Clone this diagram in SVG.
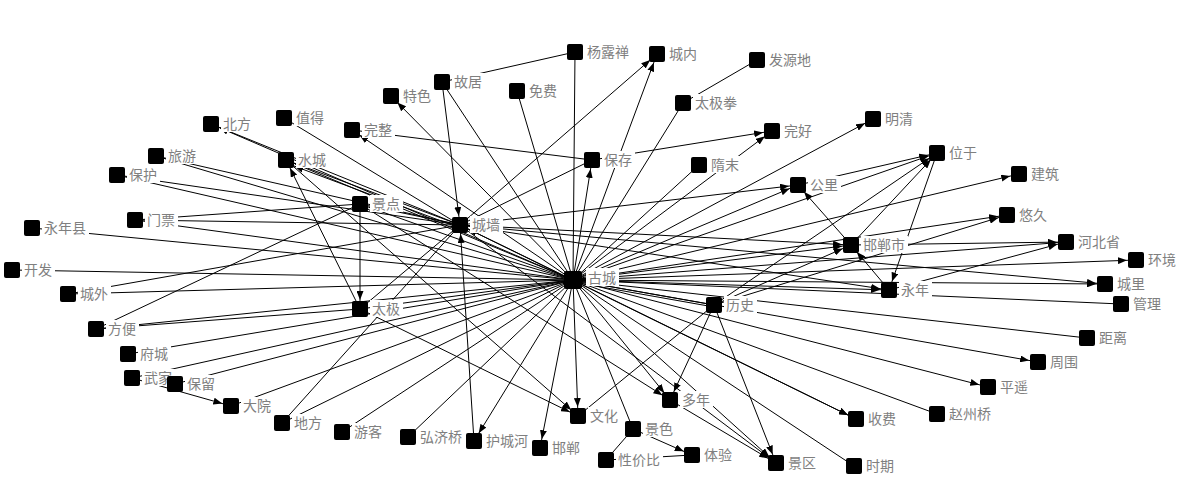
<svg xmlns="http://www.w3.org/2000/svg" width="1193" height="490" viewBox="0 0 1193 490">
<style>
line{stroke:#000;stroke-width:1}
.a{marker-end:url(#arr)}
.sq{fill:#000}
.bg{fill:#fff}
text{font-family:"Noto Sans CJK SC","Liberation Sans",sans-serif;font-size:14px;fill:#7f7f7f}
</style>
<defs>
<marker id="arr" markerUnits="userSpaceOnUse" viewBox="0 0 9 7" markerWidth="9" markerHeight="7" refX="18" refY="3.5" orient="auto">
<path d="M0,0 L9,3.5 L0,7 z" fill="#000"/>
</marker>
</defs>
<rect width="1193" height="490" fill="#fff"/>
<g id="connectors">
<line x1="573" y1="280" x2="575" y2="52"/>
<line class="a" x1="573" y1="280" x2="657" y2="54"/>
<line x1="573" y1="280" x2="683" y2="103"/>
<line x1="573" y1="280" x2="442" y2="82"/>
<line x1="573" y1="280" x2="517" y2="91"/>
<line class="a" x1="573" y1="280" x2="391" y2="96"/>
<line class="a" x1="573" y1="280" x2="211" y2="124"/>
<line class="a" x1="573" y1="280" x2="352" y2="130"/>
<line class="a" x1="573" y1="280" x2="772" y2="131"/>
<line class="a" x1="573" y1="280" x2="873" y2="119"/>
<line class="a" x1="573" y1="280" x2="286" y2="160"/>
<line x1="573" y1="280" x2="156" y2="156"/>
<line x1="573" y1="280" x2="117" y2="175"/>
<line class="a" x1="573" y1="280" x2="592" y2="160"/>
<line x1="573" y1="280" x2="699" y2="165"/>
<line class="a" x1="573" y1="280" x2="937" y2="153"/>
<line class="a" x1="573" y1="280" x2="798" y2="185"/>
<line class="a" x1="573" y1="280" x2="1019" y2="174"/>
<line class="a" x1="573" y1="280" x2="360" y2="204"/>
<line class="a" x1="573" y1="280" x2="460" y2="225"/>
<line x1="573" y1="280" x2="135" y2="220"/>
<line x1="573" y1="280" x2="32" y2="228"/>
<line class="a" x1="573" y1="280" x2="1007" y2="215"/>
<line class="a" x1="573" y1="280" x2="851" y2="245"/>
<line class="a" x1="573" y1="280" x2="1066" y2="242"/>
<line class="a" x1="573" y1="280" x2="1136" y2="260"/>
<line x1="573" y1="280" x2="12" y2="270"/>
<line class="a" x1="573" y1="280" x2="1105" y2="284"/>
<line class="a" x1="573" y1="280" x2="889" y2="290"/>
<line x1="573" y1="280" x2="68" y2="294"/>
<line x1="573" y1="280" x2="1121" y2="304"/>
<line x1="573" y1="280" x2="714" y2="305"/>
<line x1="573" y1="282" x2="714" y2="307"/>
<line x1="573" y1="280" x2="360" y2="309"/>
<line x1="573" y1="280" x2="96" y2="329"/>
<line x1="573" y1="280" x2="1087" y2="338"/>
<line x1="573" y1="280" x2="128" y2="354"/>
<line class="a" x1="573" y1="280" x2="1038" y2="362"/>
<line x1="573" y1="280" x2="132" y2="378"/>
<line x1="573" y1="280" x2="175" y2="384"/>
<line class="a" x1="573" y1="280" x2="988" y2="387"/>
<line x1="573" y1="280" x2="231" y2="406"/>
<line class="a" x1="573" y1="280" x2="670" y2="400"/>
<line class="a" x1="573" y1="280" x2="856" y2="419"/>
<line x1="573" y1="280" x2="937" y2="414"/>
<line class="a" x1="573" y1="280" x2="578" y2="416"/>
<line x1="573" y1="280" x2="282" y2="423"/>
<line x1="573" y1="280" x2="342" y2="432"/>
<line x1="573" y1="280" x2="633" y2="429"/>
<line x1="573" y1="280" x2="408" y2="437"/>
<line class="a" x1="573" y1="280" x2="474" y2="441"/>
<line class="a" x1="573" y1="280" x2="540" y2="448"/>
<line class="a" x1="573" y1="280" x2="776" y2="463"/>
<line x1="573" y1="280" x2="854" y2="466"/>
<line class="a" x1="460" y1="225" x2="657" y2="54"/>
<line class="a" x1="460" y1="225" x2="211" y2="124"/>
<line class="a" x1="460" y1="225" x2="286" y2="160"/>
<line class="a" x1="460" y1="228" x2="286" y2="163"/>
<line class="a" x1="460" y1="225" x2="360" y2="204"/>
<line class="a" x1="460" y1="225" x2="798" y2="185"/>
<line x1="460" y1="225" x2="592" y2="160"/>
<line x1="460" y1="225" x2="284" y2="118"/>
<line x1="460" y1="225" x2="135" y2="220"/>
<line x1="460" y1="225" x2="68" y2="294"/>
<line x1="460" y1="225" x2="282" y2="423"/>
<line x1="460" y1="225" x2="156" y2="156"/>
<line x1="460" y1="225" x2="117" y2="175"/>
<line x1="460" y1="225" x2="360" y2="309"/>
<line class="a" x1="460" y1="225" x2="856" y2="419"/>
<line class="a" x1="460" y1="225" x2="776" y2="463"/>
<line class="a" x1="460" y1="225" x2="851" y2="245"/>
<line class="a" x1="460" y1="225" x2="889" y2="290"/>
<line class="a" x1="460" y1="225" x2="1105" y2="284"/>
<line class="a" x1="442" y1="82" x2="460" y2="225"/>
<line class="a" x1="474" y1="441" x2="460" y2="225"/>
<line x1="575" y1="52" x2="442" y2="82"/>
<line x1="683" y1="103" x2="757" y2="60"/>
<line class="a" x1="592" y1="160" x2="772" y2="131"/>
<line x1="592" y1="160" x2="352" y2="130"/>
<line class="a" x1="851" y1="245" x2="798" y2="185"/>
<line class="a" x1="798" y1="185" x2="937" y2="153"/>
<line class="a" x1="851" y1="245" x2="937" y2="153"/>
<line class="a" x1="714" y1="305" x2="937" y2="153"/>
<line class="a" x1="937" y1="153" x2="889" y2="290"/>
<line class="a" x1="889" y1="290" x2="851" y2="245"/>
<line class="a" x1="714" y1="305" x2="1007" y2="215"/>
<line class="a" x1="851" y1="245" x2="1066" y2="242"/>
<line class="a" x1="889" y1="290" x2="1066" y2="242"/>
<line class="a" x1="714" y1="305" x2="851" y2="245"/>
<line class="a" x1="714" y1="305" x2="670" y2="400"/>
<line class="a" x1="714" y1="305" x2="776" y2="463"/>
<line class="a" x1="670" y1="400" x2="776" y2="463"/>
<line x1="714" y1="305" x2="578" y2="416"/>
<line class="a" x1="633" y1="429" x2="692" y2="455"/>
<line x1="633" y1="429" x2="606" y2="460"/>
<line x1="606" y1="460" x2="692" y2="455"/>
<line class="a" x1="132" y1="378" x2="231" y2="406"/>
<line class="a" x1="360" y1="309" x2="286" y2="160"/>
<line class="a" x1="360" y1="204" x2="360" y2="309"/>
<line x1="96" y1="329" x2="360" y2="204"/>
<line x1="96" y1="329" x2="360" y2="309"/>
<line x1="135" y1="220" x2="360" y2="204"/>
<line class="a" x1="286" y1="160" x2="578" y2="416"/>
<line class="a" x1="360" y1="309" x2="578" y2="416"/>
<line class="a" x1="360" y1="204" x2="670" y2="400"/>
</g>
<g id="n-yangluchan"><rect class="sq" x="567" y="44" width="16" height="16" rx="2"/><rect class="bg" x="585" y="43" width="47" height="17"/><text x="587" y="57">杨露禅</text></g>
<g id="n-chengnei"><rect class="sq" x="649" y="46" width="16" height="16" rx="2"/><rect class="bg" x="667" y="45" width="33" height="17"/><text x="669" y="59">城内</text></g>
<g id="n-fayuandi"><rect class="sq" x="749" y="52" width="16" height="16" rx="2"/><rect class="bg" x="767" y="51" width="47" height="17"/><text x="769" y="65">发源地</text></g>
<g id="n-guju"><rect class="sq" x="434" y="74" width="16" height="16" rx="2"/><rect class="bg" x="452" y="73" width="33" height="17"/><text x="454" y="87">故居</text></g>
<g id="n-mianfei"><rect class="sq" x="509" y="83" width="16" height="16" rx="2"/><rect class="bg" x="527" y="82" width="33" height="17"/><text x="529" y="96">免费</text></g>
<g id="n-tese"><rect class="sq" x="383" y="88" width="16" height="16" rx="2"/><rect class="bg" x="401" y="87" width="33" height="17"/><text x="403" y="101">特色</text></g>
<g id="n-taijiquan"><rect class="sq" x="675" y="95" width="16" height="16" rx="2"/><rect class="bg" x="693" y="94" width="47" height="17"/><text x="695" y="108">太极拳</text></g>
<g id="n-beifang"><rect class="sq" x="203" y="116" width="16" height="16" rx="2"/><rect class="bg" x="221" y="115" width="33" height="17"/><text x="223" y="129">北方</text></g>
<g id="n-zhide"><rect class="sq" x="276" y="110" width="16" height="16" rx="2"/><rect class="bg" x="294" y="109" width="33" height="17"/><text x="296" y="123">值得</text></g>
<g id="n-wanzheng"><rect class="sq" x="344" y="122" width="16" height="16" rx="2"/><rect class="bg" x="362" y="121" width="33" height="17"/><text x="364" y="135">完整</text></g>
<g id="n-wanhao"><rect class="sq" x="764" y="123" width="16" height="16" rx="2"/><rect class="bg" x="782" y="122" width="33" height="17"/><text x="784" y="136">完好</text></g>
<g id="n-mingqing"><rect class="sq" x="865" y="111" width="16" height="16" rx="2"/><rect class="bg" x="883" y="110" width="33" height="17"/><text x="885" y="124">明清</text></g>
<g id="n-shuicheng"><rect class="sq" x="278" y="152" width="16" height="16" rx="2"/><rect class="bg" x="296" y="151" width="33" height="17"/><text x="298" y="165">水城</text></g>
<g id="n-lvyou"><rect class="sq" x="148" y="148" width="16" height="16" rx="2"/><rect class="bg" x="166" y="147" width="33" height="17"/><text x="168" y="161">旅游</text></g>
<g id="n-baohu"><rect class="sq" x="109" y="167" width="16" height="16" rx="2"/><rect class="bg" x="127" y="166" width="33" height="17"/><text x="129" y="180">保护</text></g>
<g id="n-baocun"><rect class="sq" x="584" y="152" width="16" height="16" rx="2"/><rect class="bg" x="602" y="151" width="33" height="17"/><text x="604" y="165">保存</text></g>
<g id="n-suimo"><rect class="sq" x="691" y="157" width="16" height="16" rx="2"/><rect class="bg" x="709" y="156" width="33" height="17"/><text x="711" y="170">隋末</text></g>
<g id="n-weiyu"><rect class="sq" x="929" y="145" width="16" height="16" rx="2"/><rect class="bg" x="947" y="144" width="33" height="17"/><text x="949" y="158">位于</text></g>
<g id="n-gongli"><rect class="sq" x="790" y="177" width="16" height="16" rx="2"/><rect class="bg" x="808" y="176" width="33" height="17"/><text x="810" y="190">公里</text></g>
<g id="n-jianzhu"><rect class="sq" x="1011" y="166" width="16" height="16" rx="2"/><rect class="bg" x="1029" y="165" width="33" height="17"/><text x="1031" y="179">建筑</text></g>
<g id="n-jingdian"><rect class="sq" x="352" y="196" width="16" height="16" rx="2"/><rect class="bg" x="370" y="195" width="33" height="17"/><text x="372" y="209">景点</text></g>
<g id="n-chengqiang"><rect class="sq" x="452" y="217" width="16" height="16" rx="2"/><rect class="bg" x="470" y="216" width="33" height="17"/><text x="472" y="230">城墙</text></g>
<g id="n-menpiao"><rect class="sq" x="127" y="212" width="16" height="16" rx="2"/><rect class="bg" x="145" y="211" width="33" height="17"/><text x="147" y="225">门票</text></g>
<g id="n-yongnianxian"><rect class="sq" x="24" y="220" width="16" height="16" rx="2"/><rect class="bg" x="42" y="219" width="47" height="17"/><text x="44" y="233">永年县</text></g>
<g id="n-youjiu"><rect class="sq" x="999" y="207" width="16" height="16" rx="2"/><rect class="bg" x="1017" y="206" width="33" height="17"/><text x="1019" y="220">悠久</text></g>
<g id="n-handanshi"><rect class="sq" x="843" y="237" width="16" height="16" rx="2"/><rect class="bg" x="861" y="236" width="47" height="17"/><text x="863" y="250">邯郸市</text></g>
<g id="n-hebeisheng"><rect class="sq" x="1058" y="234" width="16" height="16" rx="2"/><rect class="bg" x="1076" y="233" width="47" height="17"/><text x="1078" y="247">河北省</text></g>
<g id="n-huanjing"><rect class="sq" x="1128" y="252" width="16" height="16" rx="2"/><rect class="bg" x="1146" y="251" width="33" height="17"/><text x="1148" y="265">环境</text></g>
<g id="n-kaifa"><rect class="sq" x="4" y="262" width="16" height="16" rx="2"/><rect class="bg" x="22" y="261" width="33" height="17"/><text x="24" y="275">开发</text></g>
<g id="n-gucheng"><rect class="sq" x="564" y="271" width="18" height="18" rx="2"/><rect class="bg" x="586" y="268" width="33" height="18"/><text x="588" y="283">古城</text></g>
<g id="n-chengli"><rect class="sq" x="1097" y="276" width="16" height="16" rx="2"/><rect class="bg" x="1115" y="275" width="33" height="17"/><text x="1117" y="289">城里</text></g>
<g id="n-yongnian"><rect class="sq" x="881" y="282" width="16" height="16" rx="2"/><rect class="bg" x="899" y="281" width="33" height="17"/><text x="901" y="295">永年</text></g>
<g id="n-chengwai"><rect class="sq" x="60" y="286" width="16" height="16" rx="2"/><rect class="bg" x="78" y="285" width="33" height="17"/><text x="80" y="299">城外</text></g>
<g id="n-guanli"><rect class="sq" x="1113" y="296" width="16" height="16" rx="2"/><rect class="bg" x="1131" y="295" width="33" height="17"/><text x="1133" y="309">管理</text></g>
<g id="n-lishi"><rect class="sq" x="706" y="297" width="16" height="16" rx="2"/><rect class="bg" x="724" y="296" width="33" height="17"/><text x="726" y="310">历史</text></g>
<g id="n-taiji"><rect class="sq" x="352" y="301" width="16" height="16" rx="2"/><rect class="bg" x="370" y="300" width="33" height="17"/><text x="372" y="314">太极</text></g>
<g id="n-fangbian"><rect class="sq" x="88" y="321" width="16" height="16" rx="2"/><rect class="bg" x="106" y="320" width="33" height="17"/><text x="108" y="334">方便</text></g>
<g id="n-juli"><rect class="sq" x="1079" y="330" width="16" height="16" rx="2"/><rect class="bg" x="1097" y="329" width="33" height="17"/><text x="1099" y="343">距离</text></g>
<g id="n-fucheng"><rect class="sq" x="120" y="346" width="16" height="16" rx="2"/><rect class="bg" x="138" y="345" width="33" height="17"/><text x="140" y="359">府城</text></g>
<g id="n-zhouwei"><rect class="sq" x="1030" y="354" width="16" height="16" rx="2"/><rect class="bg" x="1048" y="353" width="33" height="17"/><text x="1050" y="367">周围</text></g>
<g id="n-wujia"><rect class="sq" x="124" y="370" width="16" height="16" rx="2"/><rect class="bg" x="142" y="369" width="33" height="17"/><text x="144" y="383">武家</text></g>
<g id="n-baoliu"><rect class="sq" x="167" y="376" width="16" height="16" rx="2"/><rect class="bg" x="185" y="375" width="33" height="17"/><text x="187" y="389">保留</text></g>
<g id="n-pingyao"><rect class="sq" x="980" y="379" width="16" height="16" rx="2"/><rect class="bg" x="998" y="378" width="33" height="17"/><text x="1000" y="392">平遥</text></g>
<g id="n-dayuan"><rect class="sq" x="223" y="398" width="16" height="16" rx="2"/><rect class="bg" x="241" y="397" width="33" height="17"/><text x="243" y="411">大院</text></g>
<g id="n-duonian"><rect class="sq" x="662" y="392" width="16" height="16" rx="2"/><rect class="bg" x="680" y="391" width="33" height="17"/><text x="682" y="405">多年</text></g>
<g id="n-shoufei"><rect class="sq" x="848" y="411" width="16" height="16" rx="2"/><rect class="bg" x="866" y="410" width="33" height="17"/><text x="868" y="424">收费</text></g>
<g id="n-zhaozhouqiao"><rect class="sq" x="929" y="406" width="16" height="16" rx="2"/><rect class="bg" x="947" y="405" width="47" height="17"/><text x="949" y="419">赵州桥</text></g>
<g id="n-wenhua"><rect class="sq" x="570" y="408" width="16" height="16" rx="2"/><rect class="bg" x="588" y="407" width="33" height="17"/><text x="590" y="421">文化</text></g>
<g id="n-difang"><rect class="sq" x="274" y="415" width="16" height="16" rx="2"/><rect class="bg" x="292" y="414" width="33" height="17"/><text x="294" y="428">地方</text></g>
<g id="n-youke"><rect class="sq" x="334" y="424" width="16" height="16" rx="2"/><rect class="bg" x="352" y="423" width="33" height="17"/><text x="354" y="437">游客</text></g>
<g id="n-jingse"><rect class="sq" x="625" y="421" width="16" height="16" rx="2"/><rect class="bg" x="643" y="420" width="33" height="17"/><text x="645" y="434">景色</text></g>
<g id="n-hongjiqiao"><rect class="sq" x="400" y="429" width="16" height="16" rx="2"/><rect class="bg" x="418" y="428" width="47" height="17"/><text x="420" y="442">弘济桥</text></g>
<g id="n-huchenghe"><rect class="sq" x="466" y="433" width="16" height="16" rx="2"/><rect class="bg" x="484" y="432" width="47" height="17"/><text x="486" y="446">护城河</text></g>
<g id="n-handan"><rect class="sq" x="532" y="440" width="16" height="16" rx="2"/><rect class="bg" x="550" y="439" width="33" height="17"/><text x="552" y="453">邯郸</text></g>
<g id="n-tiyan"><rect class="sq" x="684" y="447" width="16" height="16" rx="2"/><rect class="bg" x="702" y="446" width="33" height="17"/><text x="704" y="460">体验</text></g>
<g id="n-xingjiabi"><rect class="sq" x="598" y="452" width="16" height="16" rx="2"/><rect class="bg" x="616" y="451" width="47" height="17"/><text x="618" y="465">性价比</text></g>
<g id="n-jingqu"><rect class="sq" x="768" y="455" width="16" height="16" rx="2"/><rect class="bg" x="786" y="454" width="33" height="17"/><text x="788" y="468">景区</text></g>
<g id="n-shiqi"><rect class="sq" x="846" y="458" width="16" height="16" rx="2"/><rect class="bg" x="864" y="457" width="33" height="17"/><text x="866" y="471">时期</text></g>
</svg>
